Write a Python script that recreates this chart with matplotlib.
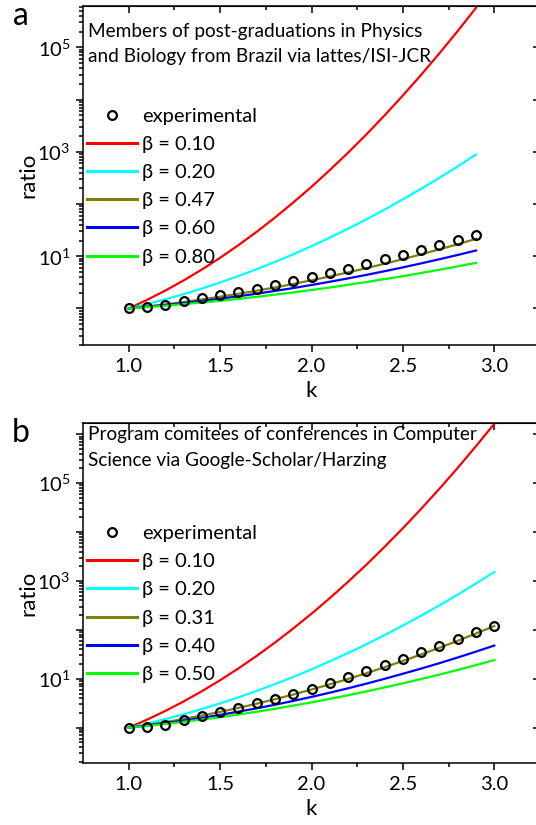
import math
import matplotlib
matplotlib.use('Agg')
import matplotlib.pyplot as plt
from matplotlib.lines import Line2D
from matplotlib.ticker import LogLocator, FixedLocator, NullFormatter, FuncFormatter

plt.rcParams['font.family'] = ['Lato', 'DejaVu Sans']
plt.rcParams['mathtext.fontset'] = 'custom'
plt.rcParams['mathtext.rm'] = 'Lato'
plt.rcParams['mathtext.it'] = 'Lato'

# panel a: Physics / Biology (lattes / ISI-JCR)
k_a = [1.0, 1.1, 1.2, 1.3, 1.4, 1.5, 1.6, 1.7, 1.8, 1.9,
       2.0, 2.1, 2.2, 2.3, 2.4, 2.5, 2.6, 2.7, 2.8, 2.9]
exp_a = [1.0, 1.07, 1.19, 1.40, 1.57, 1.82, 2.04, 2.38, 2.82, 3.31,
         3.98, 4.79, 5.75, 7.08, 8.71, 10.7, 12.9, 16.6, 20.9, 25.7]
b010_a = [1.0, 1.46, 2.20, 3.44, 5.57, 9.35, 16.3, 29.4, 55.0, 107,
          214, 447, 964, 2150, 5000, 12000, 29900, 77100, 206000, 573000]
b020_a = [1.0, 1.21, 1.50, 1.88, 2.41, 3.14, 4.18, 5.65, 7.80, 10.9,
          15.6, 22.8, 33.7, 50.9, 78.3, 123, 196, 318, 527, 889]
b047_a = [1.0, 1.09, 1.20, 1.33, 1.49, 1.68, 1.91, 2.19, 2.53, 2.95,
          3.47, 4.11, 4.91, 5.92, 7.19, 8.81, 10.9, 13.6, 17.0, 21.6]
b060_a = [1.0, 1.08, 1.16, 1.27, 1.39, 1.54, 1.71, 1.92, 2.17, 2.46,
          2.82, 3.25, 3.77, 4.40, 5.18, 6.13, 7.31, 8.78, 10.6, 12.9]
b080_a = [1.0, 1.06, 1.13, 1.21, 1.30, 1.40, 1.53, 1.67, 1.84, 2.03,
          2.26, 2.52, 2.84, 3.21, 3.65, 4.16, 4.79, 5.52, 6.41, 7.48]

# panel b: Computer Science committees (Google-Scholar / Harzing)
k_b = [1.0, 1.1, 1.2, 1.3, 1.4, 1.5, 1.6, 1.7, 1.8, 1.9, 2.0,
       2.1, 2.2, 2.3, 2.4, 2.5, 2.6, 2.7, 2.8, 2.9, 3.0]
exp_b = [1.0, 1.02, 1.15, 1.45, 1.76, 2.14, 2.51, 3.16, 3.85, 4.90, 6.17,
         8.13, 10.7, 14.5, 19.1, 25.7, 34.7, 47.9, 64.6, 89.1, 123]
b010_b = [1.0, 1.46, 2.20, 3.44, 5.57, 9.35, 16.3, 29.4, 55.0, 107, 214,
          447, 964, 2150, 5000, 12000, 29900, 77100, 206000, 573000, 1640000]
b020_b = [1.0, 1.21, 1.50, 1.88, 2.41, 3.14, 4.18, 5.65, 7.80, 10.9, 15.6,
          22.8, 33.7, 50.9, 78.3, 123, 196, 318, 527, 889, 1530]
b031_b = [1.0, 1.13, 1.30, 1.51, 1.78, 2.11, 2.55, 3.10, 3.82, 4.77, 6.03,
          7.71, 9.95, 13.0, 17.3, 23.2, 31.5, 43.2, 60.0, 84.5, 120]
b040_b = [1.0, 1.11, 1.24, 1.40, 1.59, 1.83, 2.13, 2.49, 2.95, 3.53, 4.27,
          5.20, 6.40, 7.96, 10.0, 12.7, 16.2, 20.9, 27.3, 36.0, 47.9]
b050_b = [1.0, 1.09, 1.19, 1.32, 1.47, 1.64, 1.86, 2.12, 2.44, 2.83, 3.30,
          3.89, 4.61, 5.52, 6.65, 8.09, 9.91, 12.2, 15.2, 19.1, 24.2]

colors = ['#ff0000', '#00ffff', '#808000', '#0000ff', '#00ff00']
x_ticks = [1.0, 1.5, 2.0, 2.5, 3.0]
x_minor = [1.25, 1.75, 2.25, 2.75]

W, H = 536, 825
fig = plt.figure(figsize=(W / 100, H / 100), dpi=100)


def logfmt(v, pos):
    e = int(round(math.log10(v)))
    if e % 2 == 1:
        return r'$10^{%d}$' % e
    return ''


def panel(rect, k, expv, curves, betas, note, note_y, ylim, letter, letter_y):
    ax = fig.add_axes(rect)
    for c, ys in enumerate(curves):
        ax.plot(k, ys, color=colors[c], lw=1.6, zorder=2)
    ax.plot(k, expv, 'o', mfc='none', mec='black', mew=1.6, ms=6.3, zorder=3)
    ax.set_yscale('log')
    ax.set_xlim(0.75, 3.25)
    ax.set_ylim(*ylim)
    ax.xaxis.set_major_locator(FixedLocator(x_ticks))
    ax.xaxis.set_minor_locator(FixedLocator(x_minor))
    ax.yaxis.set_major_locator(LogLocator(base=10, numticks=20))
    ax.yaxis.set_minor_locator(LogLocator(base=10, subs=range(2, 10), numticks=20))
    ax.yaxis.set_major_formatter(FuncFormatter(logfmt))
    ax.yaxis.set_minor_formatter(NullFormatter())
    ax.tick_params(which='both', direction='out', width=1.1, labelsize=14.5, pad=4)
    ax.tick_params(which='major', length=5)
    ax.tick_params(which='minor', length=3)
    for s in ax.spines.values():
        s.set_linewidth(1.1)
    # mirrored axes on top/right with inward ticks
    top = ax.secondary_xaxis('top')
    top.xaxis.set_major_locator(FixedLocator(x_ticks))
    top.xaxis.set_minor_locator(FixedLocator(x_minor))
    top.tick_params(which='both', direction='in', width=1.1, labeltop=False)
    top.tick_params(which='major', length=5)
    top.tick_params(which='minor', length=3)
    right = ax.secondary_yaxis('right')
    right.yaxis.set_major_locator(LogLocator(base=10, numticks=20))
    right.yaxis.set_minor_locator(LogLocator(base=10, subs=range(2, 10), numticks=20))
    right.tick_params(which='both', direction='in', width=1.1, labelright=False)
    right.tick_params(which='major', length=5)
    right.tick_params(which='minor', length=3)

    ax.set_xlabel('k', fontsize=16, labelpad=5)
    ax.set_ylabel('ratio', fontsize=16, labelpad=-1)

    handles = [Line2D([], [], ls='none', marker='o', mfc='none', mec='black',
                      mew=1.6, ms=6.3)]
    labels = ['experimental']
    for c, b in enumerate(betas):
        handles.append(Line2D([], [], color=colors[c], lw=2.2))
        labels.append('\u03b2 = %s' % b)
    ax.legend(handles, labels, loc='upper left', bbox_to_anchor=(0.008, 0.70),
              frameon=False, fontsize=14.5, handlelength=2.5, handletextpad=0.25,
              labelspacing=0.55, borderpad=0, borderaxespad=0)
    ax.text(0.011, note_y, note, transform=ax.transAxes, ha='left', va='top',
            fontsize=13.7, linespacing=1.6)
    fig.text(21 / W, letter_y, letter, fontsize=23, ha='center', va='baseline')
    return ax


panel([83 / W, 1 - 345 / H, 457 / W, 339 / H], k_a, exp_a,
      [b010_a, b020_a, b047_a, b060_a, b080_a],
      ['0.10', '0.20', '0.47', '0.60', '0.80'],
      'Members of post-graduations in Physics\nand Biology from Brazil via lattes/ISI-JCR',
      0.95, (0.2, 6.2e5), 'a', 1 - 25 / H)

panel([83 / W, 1 - 763 / H, 457 / W, 340 / H], k_b, exp_b,
      [b010_b, b020_b, b031_b, b040_b, b050_b],
      ['0.10', '0.20', '0.31', '0.40', '0.50'],
      'Program comitees of conferences in Computer\nScience via Google-Scholar/Harzing',
      0.99, (0.19, 1.7e6), 'b', 1 - 442 / H)

fig.savefig('out.png', dpi=100)
